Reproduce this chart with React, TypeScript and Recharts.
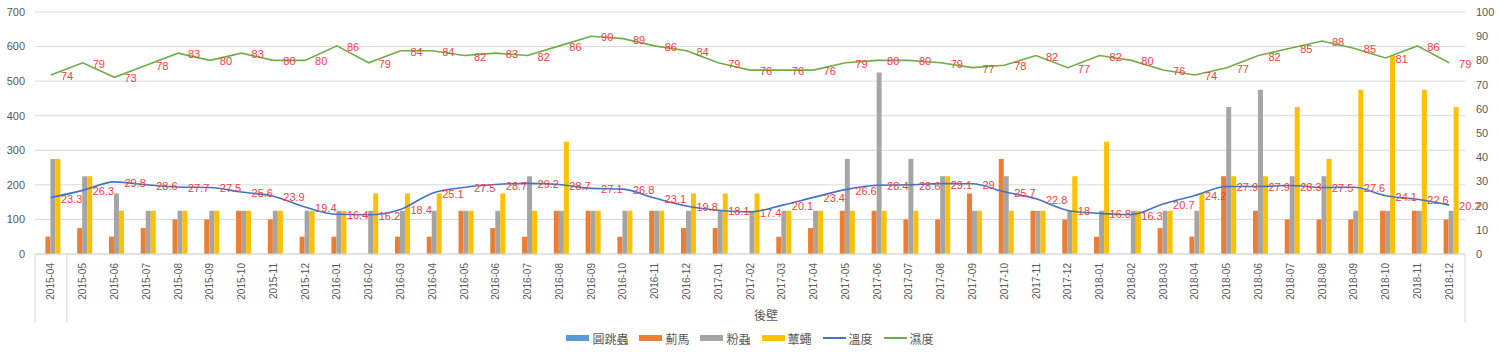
import React from "react";
import {
  ComposedChart,
  Bar,
  Line,
  XAxis,
  YAxis,
  CartesianGrid,
  Legend,
} from "recharts";

const months = [
  "2015-04", "2015-05", "2015-06", "2015-07", "2015-08", "2015-09", "2015-10", "2015-11", "2015-12",
  "2016-01", "2016-02", "2016-03", "2016-04", "2016-05", "2016-06", "2016-07", "2016-08", "2016-09", "2016-10", "2016-11", "2016-12",
  "2017-01", "2017-02", "2017-03", "2017-04", "2017-05", "2017-06", "2017-07", "2017-08", "2017-09", "2017-10", "2017-11", "2017-12",
  "2018-01", "2018-02", "2018-03", "2018-04", "2018-05", "2018-06", "2018-07", "2018-08", "2018-09", "2018-10", "2018-11", "2018-12",
];

const springtail = months.map(() => 0);

const thrips = [
  50, 75, 50, 75, 100, 100, 125, 100, 50,
  50, 0, 50, 50, 125, 75, 50, 125, 125, 50, 125, 75,
  75, 0, 50, 75, 125, 125, 100, 100, 175, 275, 125, 100,
  50, 0, 75, 50, 225, 125, 100, 100, 100, 125, 125, 100,
];

const whitefly = [
  275, 225, 175, 125, 125, 125, 125, 125, 125,
  125, 125, 125, 125, 125, 125, 225, 125, 125, 125, 125, 125,
  125, 125, 125, 125, 275, 525, 275, 225, 125, 225, 125, 125,
  125, 125, 125, 125, 425, 475, 225, 225, 125, 125, 125, 125,
];

const fungusGnat = [
  275, 225, 125, 125, 125, 125, 125, 125, 125,
  125, 175, 175, 175, 125, 175, 125, 325, 125, 125, 125, 175,
  175, 175, 125, 125, 125, 125, 125, 225, 125, 125, 125, 225,
  325, 125, 125, 175, 225, 225, 425, 275, 475, 575, 475, 425,
];

const temperature = [
  23.3, 26.3, 29.8, 28.6, 27.7, 27.5, 25.6, 23.9, 19.4,
  16.4, 16.2, 18.4, 25.1, 27.5, 28.7, 29.2, 28.7, 27.1, 26.8, 23.1, 19.8,
  18.1, 17.4, 20.1, 23.4, 26.6, 28.4, 28.6, 29.1, 29, 25.7, 22.8, 18,
  16.8, 16.3, 20.7, 24.2, 27.9, 27.9, 28.3, 27.5, 27.6, 24.1, 22.6, 20.2,
];

const humidity = [
  74, 79, 73, 78, 83, 80, 83, 80, 80,
  86, 79, 84, 84, 82, 83, 82, 86, 90, 89, 86, 84,
  79, 76, 76, 76, 79, 80, 80, 79, 77, 78, 82, 77,
  82, 80, 76, 74, 77, 82, 85, 88, 85, 81, 86, 79,
];

const leftTicks = [0, 100, 200, 300, 400, 500, 600, 700];
const rightTicks = [0, 10, 20, 30, 40, 50, 60, 70, 80, 90, 100];

const groupName = "後壁";

const data = months.map((m, i) => ({
  month: m,
  圓跳蟲: springtail[i],
  薊馬: thrips[i],
  粉蝨: whitefly[i],
  蕈蠅: fungusGnat[i],
  溫度: temperature[i],
  濕度: humidity[i],
}));

const legendItems = [
  { name: "圓跳蟲", color: "#5B9BD5", type: "bar" },
  { name: "薊馬", color: "#ED7D31", type: "bar" },
  { name: "粉蝨", color: "#A5A5A5", type: "bar" },
  { name: "蕈蠅", color: "#FFC000", type: "bar" },
  { name: "溫度", color: "#4472C4", type: "line" },
  { name: "濕度", color: "#70AD47", type: "line" },
];

const W = 1500;
const H = 352;
const LEFT_W = 35;
const RIGHT_W = 35;
const BAND = (W - LEFT_W - RIGHT_W) / months.length;

const axisText = "#595959";
const gridColor = "#d9d9d9";
const numFont = "'Liberation Sans', Arial, sans-serif";
const cjkFont = "'Noto Sans CJK TC', 'Noto Sans', sans-serif";

function MonthTick(props: any) {
  const { x, y, payload, index } = props;
  const half = BAND / 2;
  return (
    <g>
      {index === 0 && (
        <>
          <line x1={x - half} x2={x - half} y1={y} y2={y + 68} stroke={gridColor} />
          <line x1={x + half} x2={x + half} y1={y} y2={y + 68} stroke={gridColor} />
        </>
      )}
      {index === months.length - 1 && (
        <line x1={x + half} x2={x + half} y1={y} y2={y + 68} stroke={gridColor} />
      )}
      <text
        x={x}
        y={y + 9}
        transform={`rotate(-90, ${x}, ${y + 9})`}
        textAnchor="end"
        dominantBaseline="central"
        fontSize={10}
        fill={axisText}
        fontFamily={numFont}
      >
        {payload.value}
      </text>
    </g>
  );
}

function GroupLabel(props: any) {
  const vb = props.viewBox || {};
  const cx = vb.x + BAND + (vb.width - BAND) / 2;
  return (
    <text
      x={cx}
      y={vb.y + 60}
      textAnchor="middle"
      dominantBaseline="central"
      fontSize={12}
      fill={axisText}
      fontFamily={cjkFont}
    >
      {groupName}
    </text>
  );
}

function PointLabel(props: any) {
  const { x, y, value } = props;
  if (x == null || y == null) return null;
  return (
    <text
      x={x + 10}
      y={y + 1}
      dominantBaseline="central"
      fontSize={11}
      fill="#ff3b3b"
      fontFamily={numFont}
    >
      {value}
    </text>
  );
}

function LegendBox() {
  return (
    <div
      style={{
        height: 20,
        display: "flex",
        justifyContent: "center",
        alignItems: "center",
        gap: 11,
        fontFamily: cjkFont,
        fontSize: 12,
        color: axisText,
      }}
    >
      {legendItems.map((it) => (
        <div key={it.name} style={{ display: "flex", alignItems: "center", gap: 3 }}>
          <span
            style={{
              display: "inline-block",
              width: 23,
              height: it.type === "bar" ? 6 : 1.5,
              background: it.color,
            }}
          />
          <span>{it.name}</span>
        </div>
      ))}
    </div>
  );
}

export default function App() {
  return (
    <div style={{ position: "absolute", left: 0, top: 0, width: W, height: H, background: "#fff" }}>
      <ComposedChart
        width={W}
        height={H}
        data={data}
        margin={{ top: 12, right: 0, left: 0, bottom: 4 }}
        barCategoryGap="17%"
        barGap={0}
      >
        <CartesianGrid yAxisId="left" vertical={false} stroke={gridColor} />
        <XAxis
          dataKey="month"
          interval={0}
          height={74}
          tickLine={false}
          tickSize={0}
          tickMargin={0}
          axisLine={{ stroke: gridColor }}
          tick={<MonthTick />}
          label={<GroupLabel />}
        />
        <YAxis
          yAxisId="left"
          width={LEFT_W}
          domain={[0, 700]}
          ticks={leftTicks}
          axisLine={false}
          tickLine={false}
          tickSize={0}
          tickMargin={10}
          tick={{ fontSize: 11, fill: axisText, fontFamily: numFont }}
        />
        <YAxis
          yAxisId="right"
          orientation="right"
          width={RIGHT_W}
          domain={[0, 100]}
          ticks={rightTicks}
          axisLine={false}
          tickLine={false}
          tickSize={0}
          tickMargin={11}
          tick={{ fontSize: 11, fill: axisText, fontFamily: numFont, textAnchor: "start" }}
        />
        <Legend verticalAlign="bottom" content={<LegendBox />} />
        <Bar yAxisId="left" dataKey="圓跳蟲" fill="#5B9BD5" isAnimationActive={false} />
        <Bar yAxisId="left" dataKey="薊馬" fill="#ED7D31" isAnimationActive={false} />
        <Bar yAxisId="left" dataKey="粉蝨" fill="#A5A5A5" isAnimationActive={false} />
        <Bar yAxisId="left" dataKey="蕈蠅" fill="#FFC000" isAnimationActive={false} />
        <Line
          yAxisId="right"
          type="monotone"
          dataKey="溫度"
          stroke="#4472C4"
          strokeWidth={1.6}
          dot={false}
          label={<PointLabel />}
          isAnimationActive={false}
        />
        <Line
          yAxisId="right"
          type="linear"
          dataKey="濕度"
          stroke="#70AD47"
          strokeWidth={1.6}
          dot={false}
          label={<PointLabel />}
          isAnimationActive={false}
        />
      </ComposedChart>
    </div>
  );
}
